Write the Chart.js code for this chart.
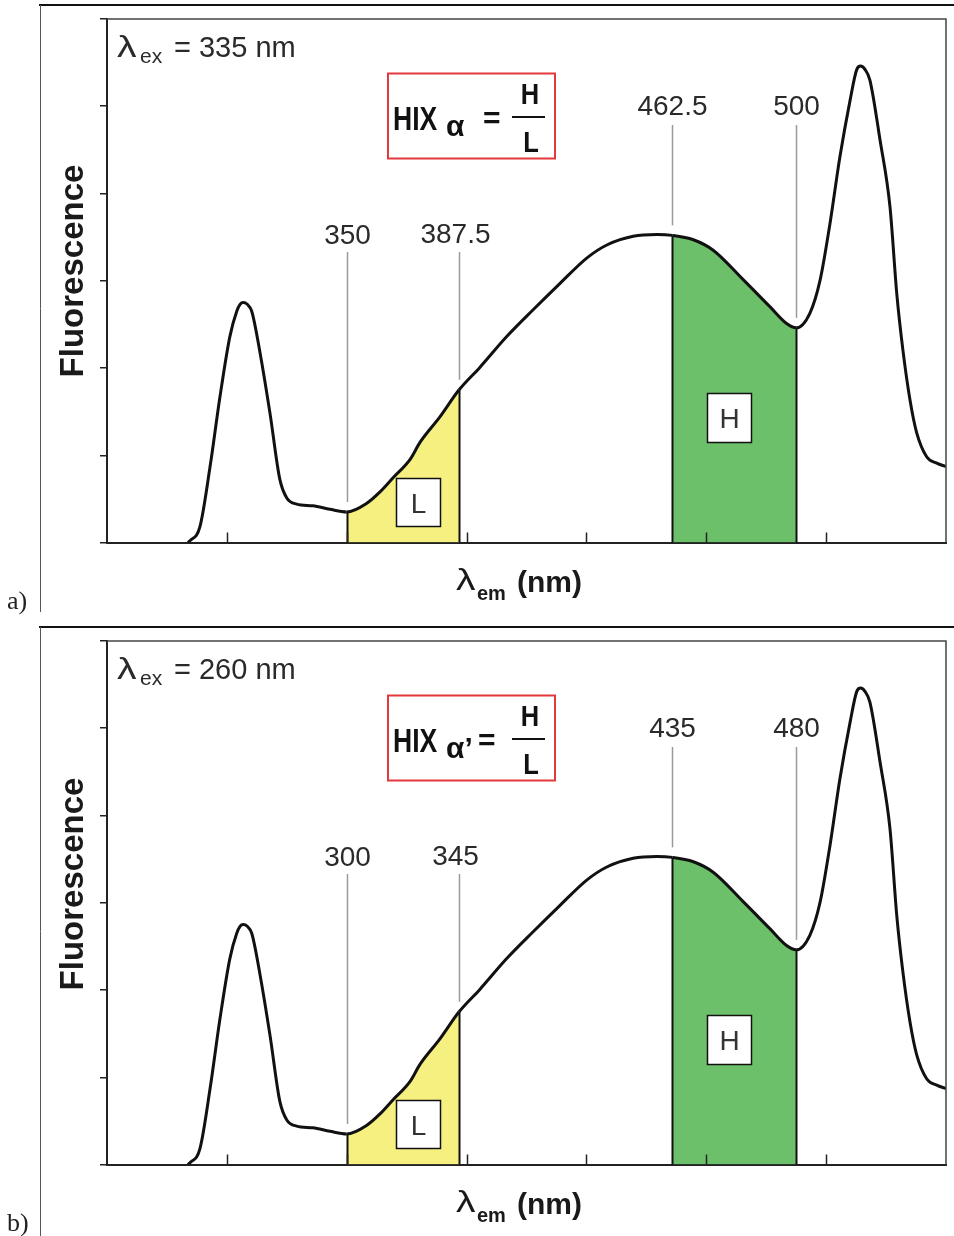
<!DOCTYPE html>
<html><head><meta charset="utf-8">
<script src="https://cdn.jsdelivr.net/npm/chart.js@4.4.1/dist/chart.umd.min.js"></script>
<style>
html,body{margin:0;padding:0;background:#fff;}
#wrap{position:relative;width:954px;height:1236px;overflow:hidden;}
canvas{position:absolute;left:0;display:block;}
</style></head><body>
<div id="wrap">
<canvas id="ca" width="954" height="622" style="top:0"></canvas>
<canvas id="cb" width="954" height="614" style="top:622px"></canvas>
</div>
<script>
// ---- data (emission wavelength in nm, relative fluorescence) ----
const emissionNm = [297.0, 297.7, 301.0, 304.4, 307.7, 311.0, 313.3, 314.4, 315.5, 316.8, 318.3, 321.1, 324.4, 327.7, 330.0, 333.3, 338.7, 344.4, 350.0, 356.7, 361.1, 365.4, 371.1, 374.5, 381.1, 387.5, 394.5, 403.4, 412.3, 421.2, 430.1, 436.8, 445.6, 453.5, 458.7, 465.7, 472.3, 482.4, 491.3, 496.8, 500.0, 504.6, 508.0, 511.3, 514.6, 518.0, 520.2, 521.5, 523.0, 524.6, 528.0, 531.3, 533.6, 535.6, 538.0, 540.2, 543.6, 546.9, 550.0];
const fluorescence = [0.00, 0.02, 0.18, 0.87, 1.67, 2.36, 2.65, 2.73, 2.75, 2.73, 2.65, 2.17, 1.48, 0.72, 0.51, 0.44, 0.42, 0.38, 0.35, 0.45, 0.58, 0.74, 0.95, 1.15, 1.44, 1.75, 2.01, 2.36, 2.67, 2.97, 3.26, 3.41, 3.51, 3.53, 3.52, 3.47, 3.35, 3.01, 2.70, 2.51, 2.46, 2.63, 3.01, 3.66, 4.42, 5.07, 5.42, 5.46, 5.42, 5.30, 4.61, 3.85, 2.84, 2.21, 1.63, 1.26, 0.98, 0.91, 0.87];
const markerNm = [350, 387.5, 458.7, 500];           // L from [0]-[1], H from [2]-[3]
const markerLabelsA = ['350', '387.5', '462.5', '500'];
const markerLabelsB = ['300', '345', '435', '480'];
const excitationA = '335';
const excitationB = '260';
const xTicksNm = [270, 310, 350, 390, 430, 470, 510, 550];
const yTickValues = [0, 1, 2, 3, 4, 5, 6];

// ---- styling ----
const YELLOW = 'rgb(245,240,128)';
const GREEN = 'rgb(108,192,106)';
const SANS = '"Liberation Sans", Arial, sans-serif';

function txt(c, s, x, y, font, color, align, sx) {
  c.save();
  c.font = font; c.fillStyle = color || '#2a2a2a';
  c.textAlign = align || 'left'; c.textBaseline = 'alphabetic';
  c.translate(x, y); c.scale(sx || 1, 1);
  c.fillText(s, 0, 0);
  c.restore();
}

function makePanel(id, cfg) {
  const pts = emissionNm.map((x, i) => ({x: x, y: fluorescence[i]}));
  const H = document.getElementById(id).height;
  const labelBase = [244, 243, 115, 115];
  const lineTop = [252, 252, 125, 125];

  const overlay = {
    id: 'overlay',
    afterDatasetsDraw(chart) {
      const c = chart.ctx, xs = chart.scales.x, ys = chart.scales.y, ca = chart.chartArea;
      c.save();
      markerNm.forEach((v, i) => {
        const px = Math.round(xs.getPixelForValue(v)) + 0.5;
        const py = ys.getPixelForValue(fluorescence[emissionNm.indexOf(v)]);
        c.strokeStyle = '#111'; c.lineWidth = 2;
        c.beginPath(); c.moveTo(px, ca.bottom); c.lineTo(px, py); c.stroke();
        c.strokeStyle = '#9a9a9a'; c.lineWidth = 1.5;
        c.beginPath(); c.moveTo(px, lineTop[i]); c.lineTo(px, py - 10); c.stroke();
        txt(c, cfg.labels[i], px + (i === 1 ? -4 : 0), labelBase[i], '28px ' + SANS, '#2a2a2a', 'center');
      });
      c.fillStyle = '#fff'; c.strokeStyle = '#111'; c.lineWidth = 1.5;
      c.fillRect(396.5, 478.5, 44, 48); c.strokeRect(396.5, 478.5, 44, 48);
      txt(c, 'L', 418.5, 513, '28px ' + SANS, '#333', 'center');
      c.fillStyle = '#fff';
      c.fillRect(707.5, 393.5, 44, 49); c.strokeRect(707.5, 393.5, 44, 49);
      txt(c, 'H', 729.5, 428, '28px ' + SANS, '#333', 'center');
      c.restore();
    },
    afterDraw(chart) {
      const c = chart.ctx, xs = chart.scales.x, ca = chart.chartArea;
      c.save();
      c.strokeStyle = '#444'; c.lineWidth = 1.5;
      c.beginPath(); c.moveTo(ca.left, ca.top); c.lineTo(ca.right, ca.top); c.lineTo(ca.right, ca.bottom); c.stroke();
      c.strokeStyle = '#222'; c.lineWidth = 1.5;
      xTicksNm.forEach(v => {
        if (v <= xs.min || v >= xs.max) return;
        const px = Math.round(xs.getPixelForValue(v)) + 0.5;
        c.beginPath(); c.moveTo(px, ca.bottom); c.lineTo(px, ca.bottom - 10); c.stroke();
      });
      c.strokeStyle = '#111'; c.lineWidth = 2;
      c.beginPath(); c.moveTo(39, 5); c.lineTo(954, 5); c.stroke();
      c.strokeStyle = '#555'; c.lineWidth = 1;
      c.beginPath(); c.moveTo(40.5, 5); c.lineTo(40.5, cfg.leftEnd); c.stroke();
      txt(c, cfg.panel, 7, 609, '26px "Liberation Serif", "Times New Roman", serif', '#222');
      txt(c, 'λ', 117, 57, '29px ' + SANS, '#2a2a2a', 'left', 1.35);
      txt(c, 'ex', 140, 63, '21px ' + SANS, '#2a2a2a');
      txt(c, '= ' + cfg.ex + ' nm', 174, 57, '29px ' + SANS, '#2a2a2a');
      c.strokeStyle = '#e3383c'; c.lineWidth = 2;
      c.strokeRect(388, 73.5, 167, 85);
      txt(c, 'HIX', 393, 130, 'bold 34px ' + SANS, '#111', 'left', 0.78);
      txt(c, cfg.prime ? 'α\u2019' : 'α', 446, 136, 'bold 30px ' + SANS, '#111');
      txt(c, '=', cfg.prime ? 478 : 483, 128, 'bold 30px ' + SANS, '#111');
      txt(c, 'H', 530, 104, 'bold 30px ' + SANS, '#111', 'center', 0.85);
      c.fillStyle = '#111'; c.fillRect(512, 116, 33, 2);
      txt(c, 'L', 531, 152, 'bold 30px ' + SANS, '#111', 'center', 0.85);
      c.save();
      c.translate(83, cfg.yTitleMid); c.rotate(-Math.PI / 2);
      txt(c, 'Fluorescence', 0, 0, 'bold 33px ' + SANS, '#1a1a1a', 'center');
      c.restore();
      txt(c, 'λ', 456, 590, '30px ' + SANS, '#1a1a1a', 'left', 1.3);
      txt(c, 'em', 477, 600, 'bold 20px ' + SANS, '#1a1a1a');
      txt(c, '(nm)', 517, 592, 'bold 30px ' + SANS, '#1a1a1a');
      c.restore();
    }
  };

  return new Chart(document.getElementById(id), {
    type: 'line',
    data: {
      datasets: [{
        data: pts,
        borderColor: '#111',
        borderWidth: 3,
        pointRadius: 0,
        cubicInterpolationMode: 'monotone',
        fill: 'origin',
        backgroundColor: 'rgba(0,0,0,0)',
        segment: {
          backgroundColor: ctx => {
            const a = ctx.p0.parsed.x, b = ctx.p1.parsed.x;
            if (a >= markerNm[0] && b <= markerNm[1]) return YELLOW;
            if (a >= markerNm[2] && b <= markerNm[3]) return GREEN;
            return 'rgba(0,0,0,0)';
          }
        }
      }]
    },
    options: {
      responsive: false,
      animation: false,
      devicePixelRatio: 1,
      layout: {padding: {left: 100, right: 8, top: 19, bottom: H - 542.5}},
      plugins: {legend: {display: false}, tooltip: {enabled: false}},
      scales: {
        x: {
          type: 'linear', min: xTicksNm[0], max: xTicksNm[xTicksNm.length - 1],
          afterBuildTicks: s => { s.ticks = xTicksNm.map(v => ({value: v})); },
          ticks: {display: false},
          grid: {display: false},
          border: {display: true, color: '#222', width: 2},
          afterFit: s => { s.height = 0; }
        },
        y: {
          type: 'linear', min: yTickValues[0], max: yTickValues[yTickValues.length - 1],
          afterBuildTicks: s => { s.ticks = yTickValues.map(v => ({value: v})); },
          ticks: {display: false},
          grid: {drawOnChartArea: false, drawTicks: true, tickLength: 7, color: '#222', lineWidth: 1.5},
          border: {display: true, color: '#222', width: 2},
          afterFit: s => { s.width = 7; }
        }
      }
    },
    plugins: [overlay]
  });
}

makePanel('ca', {labels: markerLabelsA, ex: excitationA, prime: false, panel: 'a)', leftEnd: 612, yTitleMid: 271});
makePanel('cb', {labels: markerLabelsB, ex: excitationB, prime: true, panel: 'b)', leftEnd: 614, yTitleMid: 262});
</script>
</body></html>
